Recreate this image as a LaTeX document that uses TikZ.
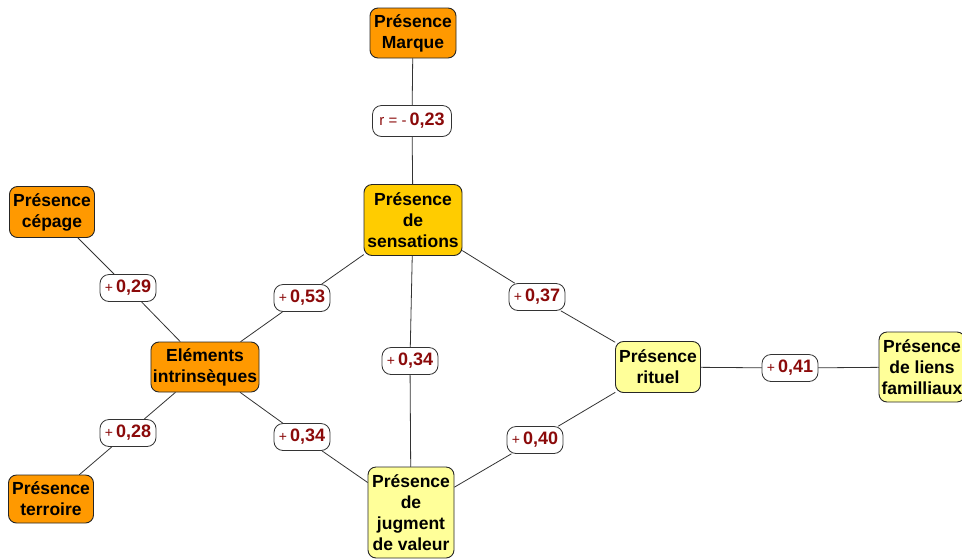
\documentclass[tikz,border=0pt]{standalone}
\usepackage{fontspec}
\setmainfont{Liberation Sans}
\usepackage{xcolor}
\usetikzlibrary{positioning}
\definecolor{orangebox}{HTML}{FF9900}
\definecolor{goldbox}{HTML}{FFCC00}
\definecolor{paleyellow}{HTML}{FFFF99}
\definecolor{coef}{HTML}{8B0A0A}
\definecolor{edgecol}{HTML}{333333}
\tikzset{
  every picture/.style={line cap=round, line join=round},
  box/.style={draw=black!85, line width=0.9pt, rounded corners=8pt, align=center,
    inner sep=2pt, font=\fontsize{17.5}{21}\selectfont\bfseries, minimum width=86pt},
  orangenode/.style={box, fill=orangebox},
  goldnode/.style={box, fill=goldbox},
  palenode/.style={box, fill=paleyellow},
  lab/.style={draw=black!80, fill=white, line width=0.8pt, rounded corners=9pt,
    inner sep=0pt, minimum width=56pt, minimum height=27pt, text=coef,
    font=\fontsize{18}{18}\selectfont\bfseries},
  link/.style={draw=edgecol, line width=0.8pt}
}
\newcommand{\Plus}{{\fontsize{14}{14}\selectfont\mdseries +}\,}

\begin{document}
\begin{tikzpicture}[x=1pt, y=-1pt]
  \useasboundingbox (0,0) rectangle (962,558);

  % boxes
  \node[orangenode, minimum height=50pt] (marque) at (413,33) {Présence\\Marque};
  \node[orangenode, minimum width=85pt, minimum height=51pt] (cepage) at (52,212) {Présence\\cépage};
  \node[orangenode, minimum width=108pt, minimum height=50pt] (elem) at (205,367) {Eléments\\intrinsèques};
  \node[orangenode, minimum width=85pt, minimum height=48pt] (terroir) at (51,499) {Présence\\terroire};
  \node[goldnode, minimum width=98pt, minimum height=71pt] (sens) at (413,220) {Présence\\de\\sensations};
  \node[palenode, minimum height=91pt] (jug) at (411,512.5) {Présence\\de\\jugment\\de valeur};
  \node[palenode, minimum width=85pt, minimum height=51pt] (rituel) at (658,367) {Présence\\rituel};
  \node[palenode, minimum width=86pt, minimum height=70pt] (fam) at (922,367) {Présence\\de liens\\familliaux};

  % coefficients
  \node[lab, minimum width=79pt, minimum height=31pt] (l23) at (412,121)
    {{\fontsize{15}{15}\selectfont\mdseries r = -}\,0,23};
  \node[lab] (l29) at (128,288) {\Plus 0,29};
  \node[lab] (l53) at (302,298) {\Plus 0,53};
  \node[lab] (l37) at (537,297) {\Plus 0,37};
  \node[lab] (l34c) at (410,361) {\Plus 0,34};
  \node[lab] (l41) at (790,368) {\Plus 0,41};
  \node[lab] (l28) at (128,433) {\Plus 0,28};
  \node[lab] (l34) at (302,437) {\Plus 0,34};
  \node[lab] (l40) at (535,440) {\Plus 0,40};

  % links
  \draw[link] (marque) -- (l23) -- (sens);
  \draw[link] (cepage) -- (l29) -- (elem);
  \draw[link] (elem) -- (l53) -- (sens);
  \draw[link] (sens) -- (l37) -- (rituel);
  \draw[link] (sens) -- (l34c) -- (jug);
  \draw[link] (elem) -- (l28) -- (terroir);
  \draw[link] (elem) -- (l34) -- (jug);
  \draw[link] (jug) -- (l40) -- (rituel);
  \draw[link] (rituel) -- (l41) -- (fam);
\end{tikzpicture}
\end{document}
